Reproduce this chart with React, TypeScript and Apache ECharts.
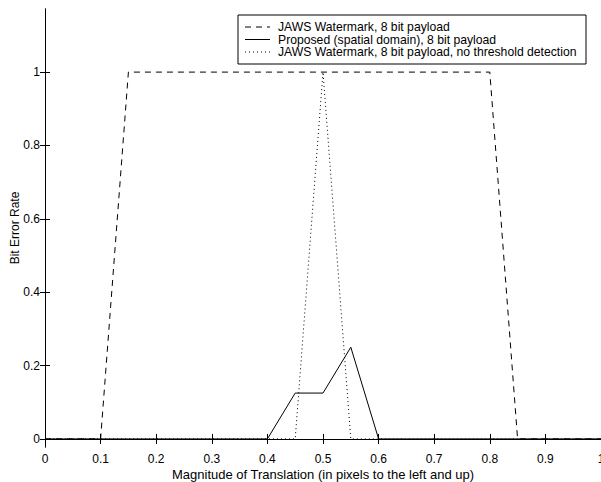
import React, { useEffect, useRef } from "react";
import * as echarts from "echarts";

const xValues = [0, 0.05, 0.1, 0.15, 0.2, 0.25, 0.3, 0.35, 0.4, 0.45, 0.5, 0.55, 0.6, 0.65, 0.7, 0.75, 0.8, 0.85, 0.9, 0.95, 1];
const jawsValues = [0, 0, 0, 1, 1, 1, 1, 1, 1, 1, 1, 1, 1, 1, 1, 1, 1, 0, 0, 0, 0];
const proposedValues = [0, 0, 0, 0, 0, 0, 0, 0, 0, 0.125, 0.125, 0.25, 0, 0, 0, 0, 0, 0, 0, 0, 0];
const noThresholdValues = [0, 0, 0, 0, 0, 0, 0, 0, 0, 0, 1, 0, 0, 0, 0, 0, 0, 0, 0, 0, 0];
const yTickValues = [0, 0.2, 0.4, 0.6, 0.8, 1];
const seriesNames = [
  "JAWS Watermark, 8 bit payload",
  "Proposed (spatial domain), 8 bit payload",
  "JAWS Watermark, 8 bit payload, no threshold detection",
];
const xTitle = "Magnitude of Translation (in pixels to the left and up)";
const yTitle = "Bit Error Rate";

const FONT = "'Liberation Sans', Arial, Helvetica, sans-serif";
const FS = 12;

export default function App() {
  const ref = useRef<HTMLDivElement>(null);
  useEffect(() => {
    if (!ref.current) return;
    const chart = echarts.init(ref.current, undefined, { renderer: "svg" });
    const pair = (ys: number[]) => xValues.map((x, i) => [x, ys[i]]);
    const dashTypes: any[] = [[6, 5], "solid", [1, 3]];
    const legendX = 238;
    const legendY = 15;
    const rowY = [12, 24.5, 37];
    const legendGraphics: any[] = [
      {
        type: "rect",
        shape: { x: legendX, y: legendY, width: 348, height: 49 },
        style: { fill: "#fff", stroke: "#000", lineWidth: 1 },
        z: 10,
      },
    ];
    seriesNames.forEach((name, i) => {
      legendGraphics.push({
        type: "line",
        shape: { x1: legendX + 7, y1: legendY + rowY[i], x2: legendX + 32, y2: legendY + rowY[i] },
        style: { stroke: "#000", lineWidth: 1, lineDash: i === 1 ? null : dashTypes[i] },
        z: 11,
      });
      legendGraphics.push({
        type: "text",
        x: legendX + 40,
        y: legendY + rowY[i],
        style: { text: name, fill: "#000", fontSize: 12.2, fontFamily: FONT, verticalAlign: "middle" },
        z: 11,
      });
    });
    const tickStyle = { show: true, inside: true, length: 5, lineStyle: { color: "#000", width: 1 } };
    const axisLine = { show: true, lineStyle: { color: "#000", width: 1 } };
    chart.setOption({
      animation: false,
      backgroundColor: "#fff",
      textStyle: { fontFamily: FONT },
      grid: { left: 45, top: 9, right: 0, height: 438, outerBoundsMode: "none", containLabel: false },
      xAxis: [
        {
          type: "value",
          min: 0,
          max: 1,
          interval: 0.1,
          position: "bottom",
          axisLine,
          axisTick: tickStyle,
          splitLine: { show: false },
          axisLabel: { color: "#000", fontSize: FS, margin: 6, fontFamily: FONT, showMaxLabel: true },
          name: xTitle,
          nameLocation: "middle",
          nameGap: 21,
          nameMoveOverlap: false,
          nameTextStyle: { color: "#000", fontSize: 13, fontFamily: FONT, verticalAlign: "top" },
        },
        {
          type: "value",
          min: 0,
          max: 1,
          interval: 0.1,
          position: "top",
          axisLine,
          axisTick: tickStyle,
          splitLine: { show: false },
          axisLabel: { show: false },
        },
      ],
      yAxis: [
        {
          type: "value",
          min: -0.022,
          max: 1.172,
          position: "left",
          axisLine,
          axisTick: { ...tickStyle, customValues: yTickValues },
          splitLine: { show: false },
          axisLabel: { color: "#000", fontSize: FS, margin: 5, fontFamily: FONT, customValues: yTickValues, formatter: (v: number) => String(v) },
          name: yTitle,
          nameLocation: "middle",
          nameGap: 24,
          nameRotate: 90,
          nameMoveOverlap: false,
          nameTextStyle: { color: "#000", fontSize: FS, fontFamily: FONT, verticalAlign: "bottom" },
        },
        {
          type: "value",
          min: -0.022,
          max: 1.172,
          position: "right",
          axisLine,
          axisTick: { ...tickStyle, customValues: yTickValues },
          splitLine: { show: false },
          axisLabel: { show: false },
        },
      ],
      series: [
        { name: seriesNames[0], type: "line", data: pair(jawsValues), symbol: "none", lineStyle: { color: "#000", width: 1, type: [6, 5] }, z: 3 },
        { name: seriesNames[1], type: "line", data: pair(proposedValues), symbol: "none", lineStyle: { color: "#000", width: 1, type: "solid" }, z: 4 },
        { name: seriesNames[2], type: "line", data: pair(noThresholdValues), symbol: "none", lineStyle: { color: "#000", width: 1, type: [1, 3] }, z: 2 },
      ],
      graphic: legendGraphics,
    });
    return () => chart.dispose();
  }, []);
  return <div ref={ref} style={{ position: "fixed", left: 0, top: 0, width: 601, height: 482, background: "#fff" }} />;
}
